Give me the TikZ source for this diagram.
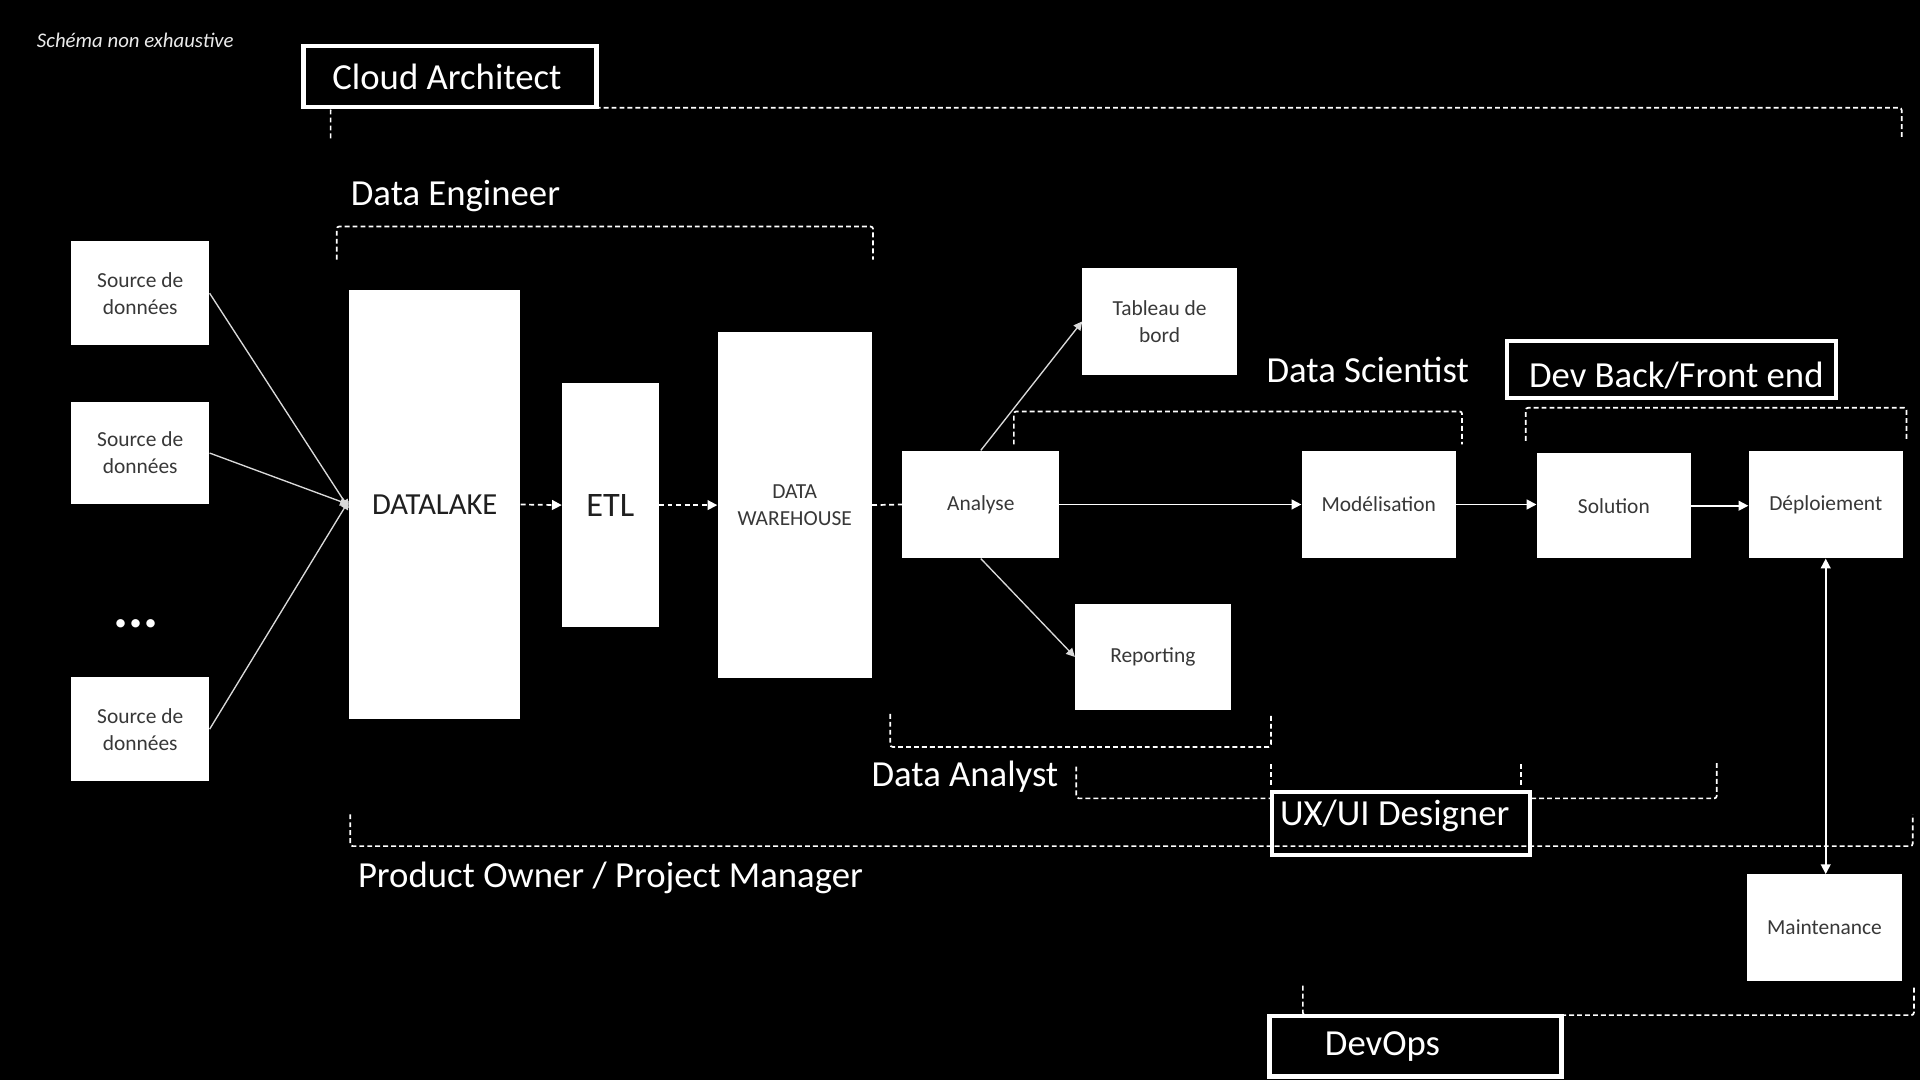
\documentclass[tikz,border=0pt]{standalone}
\usepackage{fontspec}
\setmainfont{Carlito}
\usetikzlibrary{arrows.meta}
\begin{document}
\begin{tikzpicture}[x=1pt,y=-1pt,
  wbox/.style={fill=white,draw=none,inner sep=0pt,align=center,text=black!78,font=\fontsize{17.5pt}{22pt}\selectfont},
  role/.style={text=white,inner sep=0pt,font=\fontsize{30pt}{35pt}\selectfont},
  rolebox/.style={draw=white,fill=black,line width=3.5pt,text=white,inner sep=0pt,font=\fontsize{30pt}{35pt}\selectfont},
  brk/.style={draw=white,line width=1.4pt,dash pattern=on 4pt off 2.5pt,rounded corners=2pt},
  arr/.style={draw=white,line width=1.4pt,-{Triangle[length=8pt,width=8pt]}},
  darr/.style={arr,dash pattern=on 4pt off 3pt},
  dline/.style={draw=white,line width=1.4pt,dash pattern=on 4pt off 3pt},
  thinarr/.style={draw=white!85!black,line width=1.1pt,-{Triangle[length=7pt,width=7pt]}}]
\fill[black] (0,0) rectangle (1568,882);
\useasboundingbox (0,0) rectangle (1568,882);

% note
\node[anchor=west,text=white!92!black,inner sep=0pt,font=\fontsize{17pt}{19pt}\selectfont\itshape] (note) at (30,33) {Schéma non exhaustive};

% brackets behind role boxes
\path[brk] (270,113) -- (270,88) -- (1553,88) -- (1553,113);
\path[brk] (275,212) -- (275,185) -- (713,185) -- (713,212);
\path[brk] (828,363) -- (828,336) -- (1194,336) -- (1194,363);
\path[brk] (1246,360) -- (1246,333) -- (1557,333) -- (1557,360);
\path[brk] (727,583) -- (727,610) -- (1038,610) -- (1038,583);
\path[brk] (879,626) -- (879,652) -- (1402,652) -- (1402,622);
\path[brk] (1038,624) -- (1038,641);
\path[brk] (1242,624) -- (1242,641);
\path[brk] (1064,805) -- (1064,829) -- (1563,829) -- (1563,805);

% role labels
\node[rolebox,minimum width=239.5pt,minimum height=49.5pt] (ca) at (367.5,62.5) {Cloud Architect\hspace*{5pt}};
\node[role] (de) at (372,160) {Data Engineer};
\node[role] (ds) at (1117,302) {Data Scientist};
\node[rolebox,minimum width=268.5pt,minimum height=46.5pt] (dev) at (1365,302) {\hspace*{8pt}\raisebox{-5pt}[\height][\depth]{Dev Back/Front end}};
\node[role] (da) at (788,634) {Data Analyst};
\node[rolebox,minimum width=210.5pt,minimum height=51.5pt] (ux) at (1144,672.5) {\raisebox{6pt}[\height][\depth]{UX/UI Designer}\hspace*{10pt}};
\node[role] (po) at (498.5,717) {Product Owner / Project Manager};
\node[rolebox,minimum height=49.5pt,text width=148pt,inner xsep=45.25pt,align=left] (devops) at (1156,854.5) {DevOps};

% product owner bracket over the UX box
\path[brk] (286,665) -- (286,691) -- (1562,691) -- (1562,665);

% white boxes
\node[wbox,minimum width=113pt,minimum height=85pt] (src1) at (114.5,239.5) {Source de\\données};
\node[wbox,minimum width=113pt,minimum height=84pt] (src2) at (114.5,370) {Source de\\données};
\node[wbox,minimum width=113pt,minimum height=85pt] (src3) at (114.5,595.5) {Source de\\données};
\node[text=white,inner sep=0pt,font=\fontsize{46pt}{46pt}\selectfont\bfseries] (dots) at (111,509) {...};
\node[wbox,minimum width=140pt,minimum height=350pt,text=black!88,font=\fontsize{25pt}{30pt}\selectfont] (lake) at (355,412) {DATALAKE};
\node[wbox,minimum width=79pt,minimum height=199pt,text=black!88,font=\fontsize{28pt}{32pt}\selectfont] (etl) at (498.5,412.5) {ETL};
\node[wbox,minimum width=126pt,minimum height=283pt] (dw) at (649,412.5) {DATA\\WAREHOUSE};
\node[wbox,minimum width=128pt,minimum height=88pt] (ana) at (801,412) {Analyse};
\node[wbox,minimum width=126pt,minimum height=87pt] (tab) at (947,262.5) {Tableau de\\bord};
\node[wbox,minimum width=127pt,minimum height=87pt] (rep) at (941.5,536.5) {Reporting};
\node[wbox,minimum width=126pt,minimum height=88pt] (mod) at (1126,412) {Modélisation};
\node[wbox,minimum width=126pt,minimum height=86pt] (sol) at (1318,413) {Solution};
\node[wbox,minimum width=126pt,minimum height=88pt] (dep) at (1491,412) {Déploiement};
\node[wbox,minimum width=126pt,minimum height=87pt] (mai) at (1490,757.5) {Maintenance};

% connectors
\draw[thinarr] (src1.east) -- ([yshift=-3pt]lake.west);
\draw[thinarr] (src2.east) -- (lake.west);
\draw[thinarr] (src3.east) -- ([yshift=3pt]lake.west);
\draw[darr] (lake.east) -- (etl.west);
\draw[darr] (etl.east) -- (dw.west);
\draw[dline] (dw.east) -- (ana.west);
\draw[thinarr] (ana.north) -- (tab.west);
\draw[thinarr] (ana.south) -- (rep.west);
\draw[arr] (ana.east) -- (mod.west);
\draw[arr] (mod.east) -- (mod.east -| sol.west);
\draw[arr] (sol.east) -- (sol.east -| dep.west);
\draw[arr,{Triangle[length=8pt,width=8pt]}-{Triangle[length=8pt,width=8pt]}] (dep.south) -- (dep.south |- mai.north);
\end{tikzpicture}
\end{document}
